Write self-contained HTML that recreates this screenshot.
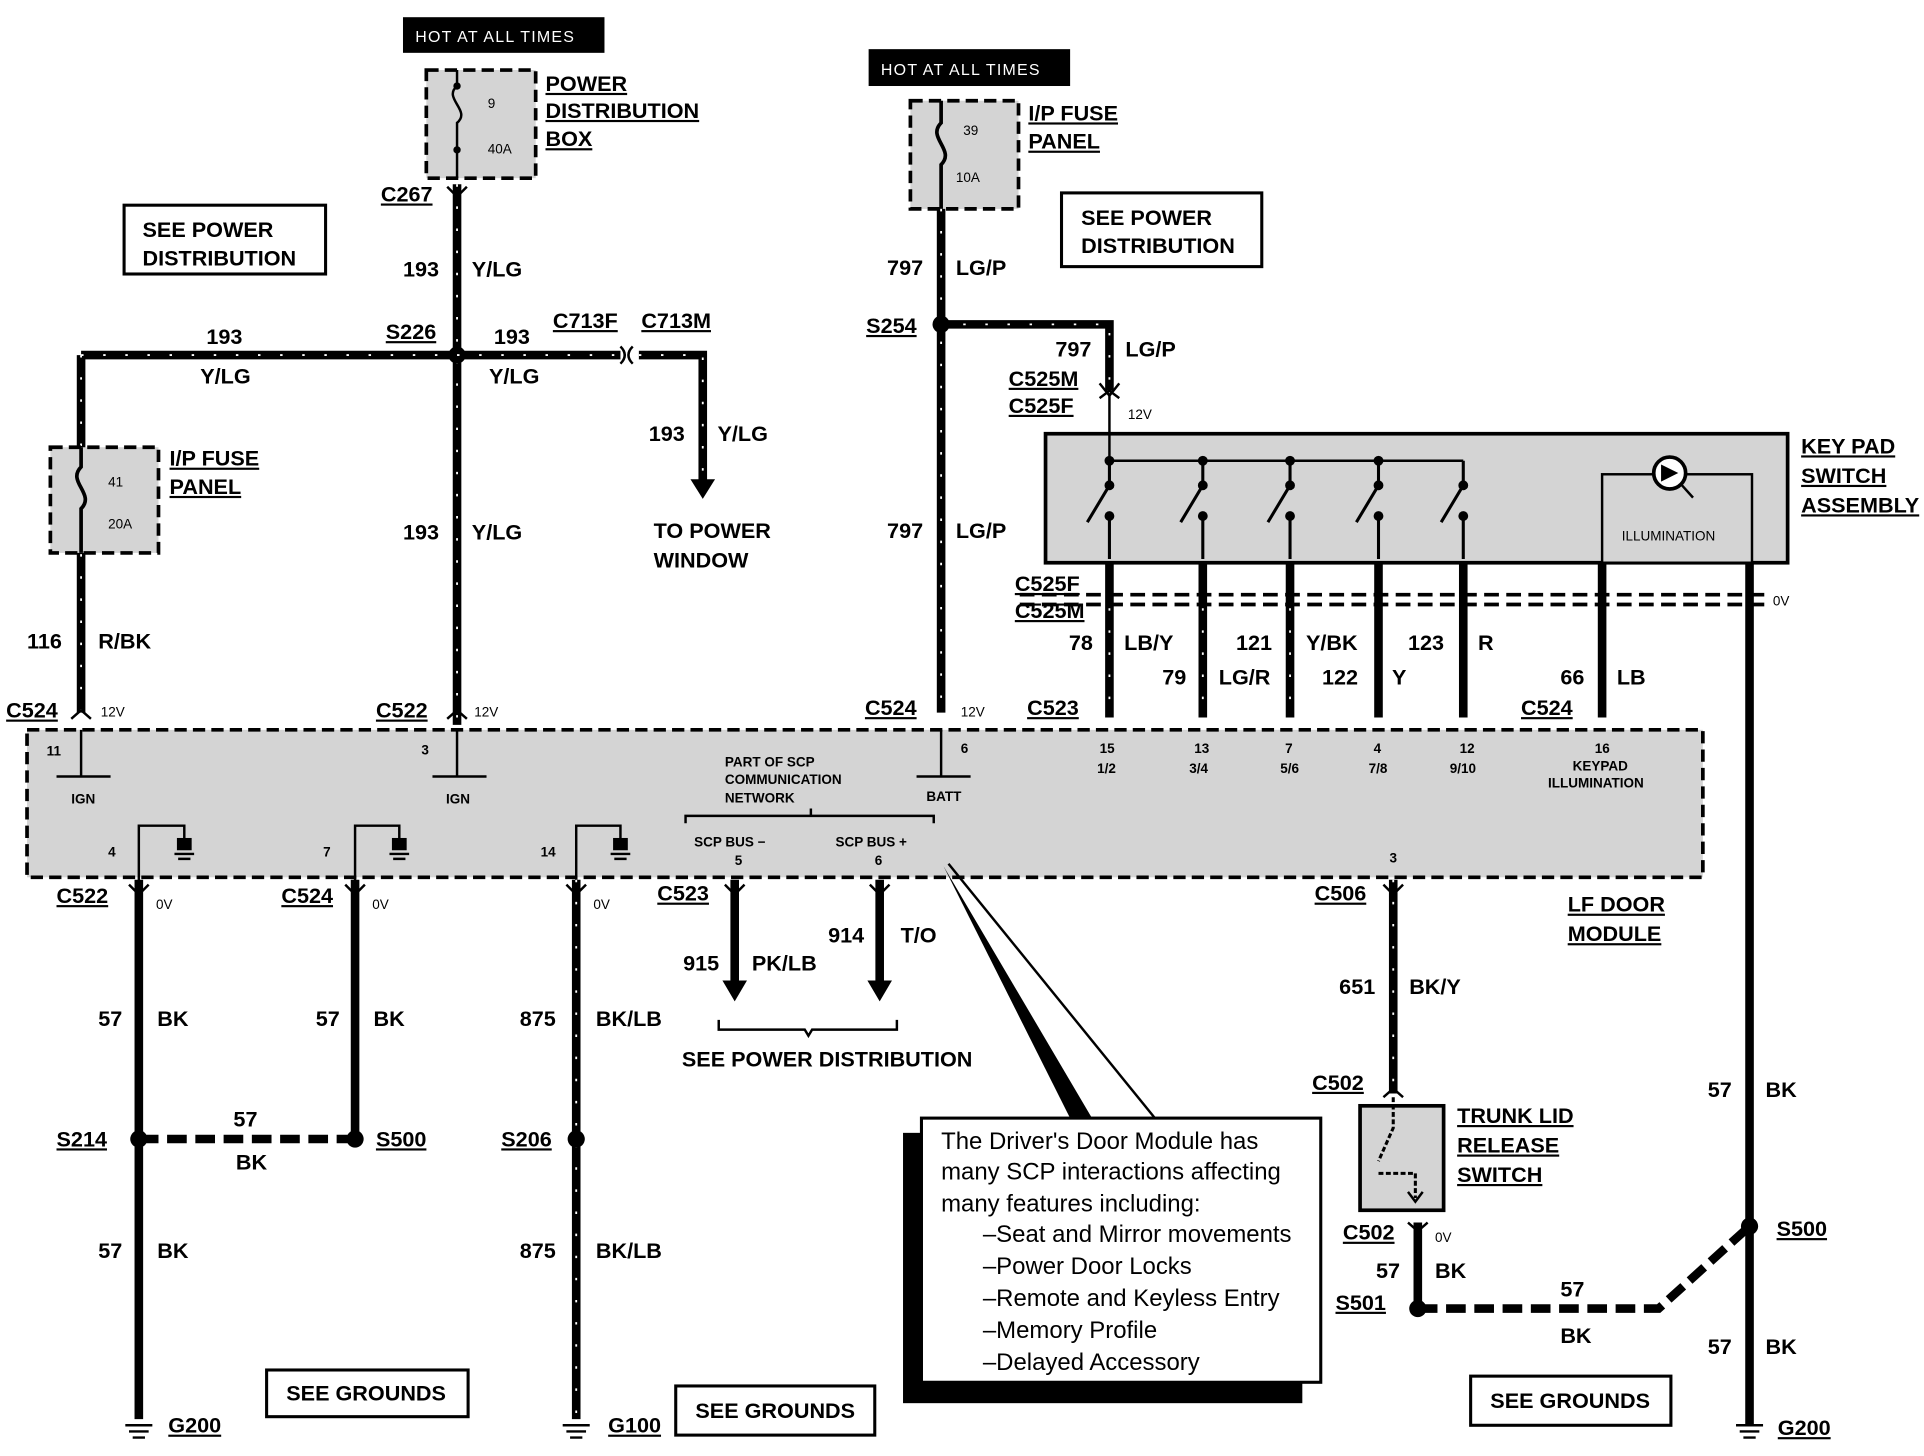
<!DOCTYPE html>
<html><head><meta charset="utf-8"><style>
html,body{margin:0;padding:0;background:#fff;overflow:hidden}
svg{display:block}
text{font-family:"Liberation Sans",sans-serif;font-weight:bold;fill:#000}
.l{font-size:17.6px}
.u{text-decoration:underline}
.s{font-size:11px;font-weight:normal}
.c{font-size:19.5px;font-weight:normal}
.w{stroke:#000;stroke-width:7;fill:none}
.t{stroke:#fff;stroke-width:1.5;stroke-dasharray:2 16;fill:none}
.d{stroke:#000;stroke-width:7;stroke-dasharray:16 7;fill:none}
.box{fill:#fff;stroke:#000;stroke-width:2.5}
.g{fill:#d4d4d4;stroke:#000;stroke-width:3;stroke-dasharray:10 5}
.th{stroke:#000;stroke-width:2;fill:none}
</style></head><body>
<svg width="1924" height="1456" viewBox="0 0 1566 1185" preserveAspectRatio="none" xmlns="http://www.w3.org/2000/svg">
<rect x="22" y="594" width="1364" height="120" class="g"/>
<rect x="851" y="353" width="604" height="105" fill="#d4d4d4" stroke="#000" stroke-width="3"/>
<rect x="1304" y="386" width="122" height="72" fill="#d4d4d4" stroke="#000" stroke-width="2"/>
<circle cx="1359" cy="385" r="13" fill="#fff" stroke="#000" stroke-width="3"/>
<path d="M1352,378 L1366,385 L1352,392Z" fill="#000"/><path d="M1369,395 L1378,405" class="th" stroke-width="3"/>
<text x="1320" y="440" class="s">ILLUMINATION</text>
<rect x="328" y="14" width="164" height="29" fill="#000"/>
<text x="338" y="34" class="s" style="fill:#fff;font-size:13px;letter-spacing:1px">HOT AT ALL TIMES</text>
<rect x="347" y="57" width="89" height="88" class="g"/>
<path d="M372,57 V70 C360,80 384,90 372,100 V145" class="th" stroke-width="3"/>
<circle cx="372" cy="70" r="3"/><circle cx="372" cy="122" r="3"/>
<text x="397" y="88" class="s">9</text><text x="397" y="125" class="s">40A</text>
<text x="444" y="74" class="l u">POWER</text><text x="444" y="96" class="l u">DISTRIBUTION</text><text x="444" y="119" class="l u">BOX</text>
<text x="310" y="164" class="l u">C267</text>
<rect x="101" y="167" width="164" height="56" class="box"/>
<text x="116" y="193" class="l">SEE POWER</text><text x="116" y="216" class="l">DISTRIBUTION</text>
<path d="M372,150 V590" class="w"/><path d="M372,150 V590" class="t"/>
<path d="M364,152 L372,160 L380,152" class="th" stroke-width="3"/>
<text x="328" y="225" class="l">193</text><text x="384" y="225" class="l">Y/LG</text>
<text x="328" y="439" class="l">193</text><text x="384" y="439" class="l">Y/LG</text>
<path d="M66,289 H372 M66,289 V580" class="w"/><path d="M66,289 H372 M66,289 V580" class="t"/>
<circle cx="372" cy="289" r="7"/>
<text x="314" y="276" class="l u">S226</text>
<text x="168" y="280" class="l">193</text><text x="163" y="312" class="l">Y/LG</text>
<rect x="41" y="364" width="88" height="86" class="g"/>
<path d="M66,364 V380 C54,392 78,402 66,414 V450" stroke="#000" stroke-width="3" fill="none"/>
<text x="88" y="396" class="s">41</text><text x="88" y="430" class="s">20A</text>
<text x="138" y="379" class="l u">I/P FUSE</text><text x="138" y="402" class="l u">PANEL</text>
<text x="22" y="528" class="l">116</text><text x="80" y="528" class="l">R/BK</text>
<path d="M372,289 H505 M520,289 H572 V392" class="w"/><path d="M372,289 H505 M520,289 H572 V392" class="t"/>
<path d="M505,282 Q512,289 505,296 M515,282 Q508,289 515,296" class="th" stroke-width="3"/>
<path d="M562,390 L572,406 L582,390Z" fill="#000"/>
<text x="402" y="280" class="l">193</text><text x="398" y="312" class="l">Y/LG</text>
<text x="450" y="267" class="l u">C713F</text><text x="522" y="267" class="l u">C713M</text>
<text x="528" y="359" class="l">193</text><text x="584" y="359" class="l">Y/LG</text>
<text x="532" y="438" class="l">TO POWER</text><text x="532" y="462" class="l">WINDOW</text>
<text x="5" y="584" class="l u">C524</text><text x="82" y="583" class="s">12V</text>
<text x="306" y="584" class="l u">C522</text><text x="386" y="583" class="s">12V</text>
<path d="M58,585 L66,578 L74,585 M364,585 L372,578 L380,585" class="th" stroke-width="3"/>
<rect x="707" y="40" width="164" height="30" fill="#000"/>
<text x="717" y="61" class="s" style="fill:#fff;font-size:13px;letter-spacing:1px">HOT AT ALL TIMES</text>
<rect x="741" y="82" width="88" height="88" class="g"/>
<path d="M766,82 V100 C754,112 778,122 766,134 V170" stroke="#000" stroke-width="3" fill="none"/>
<text x="784" y="110" class="s">39</text><text x="778" y="148" class="s">10A</text>
<text x="837" y="98" class="l u">I/P FUSE</text><text x="837" y="121" class="l u">PANEL</text>
<rect x="864" y="157" width="163" height="60" class="box"/>
<text x="880" y="183" class="l">SEE POWER</text><text x="880" y="206" class="l">DISTRIBUTION</text>
<path d="M766,170 V580 M766,264 H903 V318" class="w"/><path d="M766,170 V580 M766,264 H903 V318" class="t"/>
<circle cx="766" cy="264" r="7"/>
<path d="M895,312 L903,322 L911,312 M895,324 L903,318 L911,324" class="th" stroke-width="3"/>
<path d="M903,320 V375" class="th" stroke-width="3"/>
<text x="705" y="271" class="l u">S254</text>
<text x="722" y="224" class="l">797</text><text x="778" y="224" class="l">LG/P</text>
<text x="722" y="438" class="l">797</text><text x="778" y="438" class="l">LG/P</text>
<text x="859" y="290" class="l">797</text><text x="916" y="290" class="l">LG/P</text>
<text x="821" y="314" class="l u">C525M</text><text x="821" y="336" class="l u">C525F</text>
<text x="918" y="341" class="s">12V</text>
<text x="1466" y="369" class="l u">KEY PAD</text><text x="1466" y="393" class="l u">SWITCH</text><text x="1466" y="417" class="l u">ASSEMBLY</text>
<path d="M903,375 H1191" class="th" stroke-width="2.5"/>
<g stroke="#000" stroke-width="2.5" fill="none">
<path d="M903,375 V395 L885,425 M903,420 V455"/>
<path d="M979,375 V395 L961,425 M979,420 V455"/>
<path d="M1050,375 V395 L1032,425 M1050,420 V455"/>
<path d="M1122,375 V395 L1104,425 M1122,420 V455"/>
<path d="M1191,375 V395 L1173,425 M1191,420 V455"/>
</g>
<g fill="#000">
<circle cx="903" cy="375" r="4"/><circle cx="979" cy="375" r="4"/><circle cx="1050" cy="375" r="4"/><circle cx="1122" cy="375" r="4"/>
<circle cx="903" cy="395" r="4"/><circle cx="979" cy="395" r="4"/><circle cx="1050" cy="395" r="4"/><circle cx="1122" cy="395" r="4"/><circle cx="1191" cy="395" r="4"/>
<circle cx="903" cy="420" r="4"/><circle cx="979" cy="420" r="4"/><circle cx="1050" cy="420" r="4"/><circle cx="1122" cy="420" r="4"/><circle cx="1191" cy="420" r="4"/>
</g>
<path d="M903,458 V584 M979,458 V584 M1050,458 V584 M1122,458 V584 M1191,458 V584 M1304,458 V584 M1424,458 V1160" class="w"/>
<path d="M903,495 V584 M979,495 V584 M1050,495 V584" class="t"/>
<path d="M830,484 H1440 M830,492 H1440" stroke="#000" stroke-width="3" stroke-dasharray="12 6"/>
<text x="826" y="481" class="l u">C525F</text><text x="826" y="503" class="l u">C525M</text>
<text x="1443" y="493" class="s">0V</text>
<text x="870" y="529" class="l">78</text><text x="915" y="529" class="l">LB/Y</text>
<text x="1006" y="529" class="l">121</text><text x="1063" y="529" class="l">Y/BK</text>
<text x="1146" y="529" class="l">123</text><text x="1203" y="529" class="l">R</text>
<text x="946" y="557" class="l">79</text><text x="992" y="557" class="l">LG/R</text>
<text x="1076" y="557" class="l">122</text><text x="1133" y="557" class="l">Y</text>
<text x="1270" y="557" class="l">66</text><text x="1316" y="557" class="l">LB</text>
<text x="704" y="582" class="l u">C524</text><text x="782" y="583" class="s">12V</text>
<text x="836" y="582" class="l u">C523</text><text x="1238" y="582" class="l u">C524</text>
<g class="s" style="font-size:11px">
<text x="38" y="615">11</text><text x="58" y="654">IGN</text>
<text x="343" y="614">3</text><text x="363" y="654">IGN</text>
<text x="782" y="613">6</text><text x="754" y="652">BATT</text>
<text x="590" y="624">PART OF SCP</text><text x="590" y="638">COMMUNICATION</text><text x="590" y="653">NETWORK</text>
<text x="895" y="613">15</text><text x="893" y="629">1/2</text>
<text x="972" y="613">13</text><text x="968" y="629">3/4</text>
<text x="1046" y="613">7</text><text x="1042" y="629">5/6</text>
<text x="1118" y="613">4</text><text x="1114" y="629">7/8</text>
<text x="1188" y="613">12</text><text x="1180" y="629">9/10</text>
<text x="1298" y="613">16</text><text x="1280" y="627">KEYPAD</text><text x="1260" y="641">ILLUMINATION</text>
<text x="88" y="697">4</text><text x="263" y="697">7</text><text x="440" y="697">14</text>
<text x="565" y="689">SCP BUS −</text><text x="598" y="704">5</text>
<text x="680" y="689">SCP BUS +</text><text x="712" y="704">6</text>
<text x="1131" y="702">3</text>
</g>
<path d="M66,594 V632 H46 H90 M372,594 V632 H352 H396 M766,594 V632 H746 H790" class="th"/>
<path d="M558,670 V664 H760 V670 M660,664 V658" class="th"/>
<g class="th">
<path d="M113,720 V672 H150 V682 M289,720 V672 H325 V682 M469,720 V672 H505 V682"/>
</g>
<g fill="#000">
<path d="M144,682 h12 v10 h-12Z"/><path d="M319,682 h12 v10 h-12Z"/><path d="M499,682 h12 v10 h-12Z"/>
</g>
<path d="M142,695 h16 M145,699 h10 M317,695 h16 M320,699 h10 M497,695 h16 M500,699 h10" class="th"/>
<path d="M113,716 V1155 M289,716 V927 M469,716 V1155 M598,716 V800 M716,716 V800 M1134,716 V890 M1154,995 V1065" class="w"/>
<path d="M469,716 V1155 M1134,716 V890" class="t"/>
<path d="M588,798 L598,815 L608,798Z M706,798 L716,815 L726,798Z" fill="#000"/>
<path d="M105,720 L113,728 L121,720 M281,720 L289,728 L297,720 M461,720 L469,728 L477,720 M590,720 L598,728 L606,720 M708,720 L716,728 L724,720 M1126,720 L1134,728 L1142,720 M1126,893 L1134,886 L1142,893 M1146,995 L1154,1002 L1162,995" class="th" stroke-width="3"/>
<path d="M113,927 H289 M1154,1065 H1350 L1424,998" class="d"/>
<text x="46" y="735" class="l u">C522</text><text x="127" y="740" class="s">0V</text>
<text x="229" y="735" class="l u">C524</text><text x="303" y="740" class="s">0V</text>
<text x="483" y="740" class="s">0V</text>
<text x="535" y="733" class="l u">C523</text>
<text x="556" y="790" class="l">915</text><text x="612" y="790" class="l">PK/LB</text>
<text x="674" y="767" class="l">914</text><text x="733" y="767" class="l">T/O</text>
<path d="M585,830 V838 H655 L658,843 L661,838 H730 V830" class="th"/>
<text x="555" y="868" class="l">SEE POWER DISTRIBUTION</text>
<text x="80" y="835" class="l">57</text><text x="128" y="835" class="l">BK</text>
<text x="257" y="835" class="l">57</text><text x="304" y="835" class="l">BK</text>
<text x="423" y="835" class="l">875</text><text x="485" y="835" class="l">BK/LB</text>
<circle cx="113" cy="927" r="7"/><circle cx="289" cy="927" r="7"/><circle cx="469" cy="927" r="7"/>
<text x="46" y="933" class="l u">S214</text><text x="306" y="933" class="l u">S500</text><text x="408" y="933" class="l u">S206</text>
<text x="190" y="917" class="l">57</text><text x="192" y="952" class="l">BK</text>
<text x="80" y="1024" class="l">57</text><text x="128" y="1024" class="l">BK</text>
<text x="423" y="1024" class="l">875</text><text x="485" y="1024" class="l">BK/LB</text>
<path d="M102,1160 h22 M105,1165 h16 M108,1170 h10 M458,1160 h22 M461,1165 h16 M464,1170 h10 M1413,1160 h22 M1416,1165 h16 M1419,1170 h10" class="th" stroke-width="3"/>
<text x="137" y="1166" class="l u">G200</text><text x="495" y="1166" class="l u">G100</text><text x="1447" y="1168" class="l u">G200</text>
<rect x="217" y="1115" width="164" height="38" class="box"/><text x="233" y="1140" class="l">SEE GROUNDS</text>
<rect x="550" y="1128" width="162" height="40" class="box"/><text x="566" y="1154" class="l">SEE GROUNDS</text>
<rect x="1197" y="1120" width="163" height="40" class="box"/><text x="1213" y="1146" class="l">SEE GROUNDS</text>
<path d="M768,705 L872,912 L890,912Z" fill="#000"/>
<path d="M772,703 L940,910" class="th" stroke-width="1"/>
<rect x="735" y="922" width="325" height="220" fill="#000"/>
<rect x="750" y="910" width="325" height="215" class="box" stroke-width="2"/>
<text x="766" y="935" class="c">The Driver's Door Module has</text>
<text x="766" y="960" class="c">many SCP interactions affecting</text>
<text x="766" y="986" class="c">many features including:</text>
<text x="800" y="1011" class="c">–Seat and Mirror movements</text>
<text x="800" y="1037" class="c">–Power Door Locks</text>
<text x="800" y="1063" class="c">–Remote and Keyless Entry</text>
<text x="800" y="1089" class="c">–Memory Profile</text>
<text x="800" y="1115" class="c">–Delayed Accessory</text>
<text x="1070" y="733" class="l u">C506</text>
<text x="1090" y="809" class="l">651</text><text x="1147" y="809" class="l">BK/Y</text>
<text x="1276" y="742" class="l u">LF DOOR</text><text x="1276" y="766" class="l u">MODULE</text>
<text x="1068" y="887" class="l u">C502</text>
<rect x="1107" y="900" width="68" height="85" fill="#d4d4d4" stroke="#000" stroke-width="3"/>
<path d="M1134,893 V918 L1122,945 M1122,955 H1152 V975" stroke="#000" stroke-width="2.5" fill="none" stroke-dasharray="4 2"/>
<path d="M1146,970 L1152,978 L1158,970" class="th"/>
<text x="1186" y="914" class="l u">TRUNK LID</text><text x="1186" y="938" class="l u">RELEASE</text><text x="1186" y="962" class="l u">SWITCH</text>
<text x="1093" y="1009" class="l u">C502</text><text x="1168" y="1011" class="s">0V</text>
<text x="1120" y="1040" class="l">57</text><text x="1168" y="1040" class="l">BK</text>
<circle cx="1154" cy="1065" r="7"/><circle cx="1424" cy="998" r="7"/>
<text x="1087" y="1066" class="l u">S501</text><text x="1446" y="1006" class="l u">S500</text>
<text x="1270" y="1055" class="l">57</text><text x="1270" y="1093" class="l">BK</text>
<text x="1390" y="893" class="l">57</text><text x="1437" y="893" class="l">BK</text>
<text x="1390" y="1102" class="l">57</text><text x="1437" y="1102" class="l">BK</text>
</svg>
</body></html>
